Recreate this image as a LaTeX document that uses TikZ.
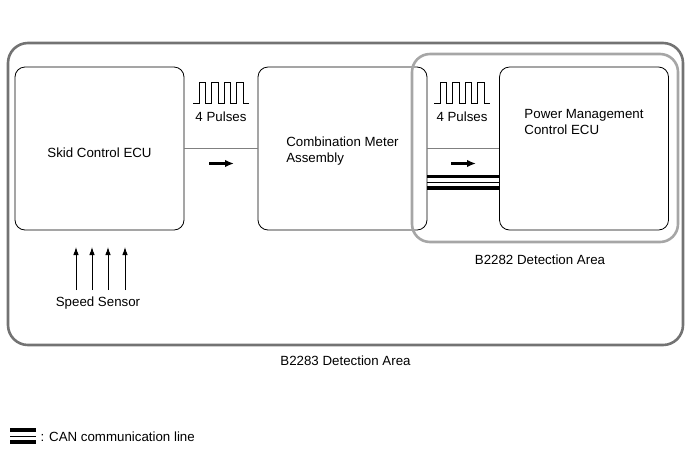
\documentclass[tikz,border=0pt]{standalone}
\usepackage{fontspec}
\setmainfont{Liberation Sans}
\usetikzlibrary{arrows.meta,positioning}
\tikzset{%
	ecu/.style    = {draw, rectangle, rounded corners=10pt, minimum width=169pt, minimum height=163pt, line width=0.8pt}, % ECU box
	area/.style   = {draw, rectangle, line width=2.6pt}, % Detection area
	signal/.style = {draw=gray, line width=0.8pt}, % Pulse line
	pulse/.style  = {line width=0.8pt, line join=miter},
	dir/.style    = {line width=2.2pt, -{Latex[length=9pt,width=7.5pt]}},
	sensor/.style = {line width=0.9pt, -{Latex[length=8pt,width=5.5pt]}},
	can/.style    = {line width=3.8pt}, % CAN line
	canmid/.style = {line width=0.8pt},
}

\begin{document}
\begin{tikzpicture}[x=1pt, y=-1pt, font=\fontsize{13.3}{16}\selectfont]
	\useasboundingbox (0,0) rectangle (690,467);
	% detection areas
	\node[area, draw=black!55, rounded corners=20pt, minimum width=675pt, minimum height=302pt,
		label={[label distance=6pt]below:B2283 Detection Area}] (b2283) at (345.5,194) {};
	% ECUs
	\node[ecu] (skid) at (99.5,148.5) {};
	\node at ([yshift=-4pt]skid.center) {Skid Control ECU};
	\node[ecu] (combo) at (342.5,148.5) {};
	\node[align=left] (combotext) at ([yshift=-3pt]combo.center) {Combination Meter\\Assembly};
	\node[ecu] (power) at (584,148.5) {};
	\node[align=left] (powertext) at ([yshift=27pt]power.center) {Power Management\\Control ECU};
	\node[area, draw=black!35, rounded corners=18pt, minimum width=266pt, minimum height=188pt,
		label={[label distance=8pt, xshift=-5pt]below:B2282 Detection Area}] (b2282) at (545,148) {};
	% pulses
	\foreach \px/\nm in {193/pulsesL, 434/pulsesR} {
		\draw[pulse] (\px,103) -- ++(6,0)
			\foreach \i in {1,...,4} { -- ++(0,-21) -- ++(6.3,0) -- ++(0,21) -- ++(6.3,0) };
		\node (\nm) at (\px+28,117) {4 Pulses};
	}
	\draw[signal] (skid) -- (combo);
	\draw[signal] (combo) -- (power);
	\draw[dir] (209,163.5) -- (234,163.5);
	\draw[dir] (451,163.5) -- (476,163.5);
	% CAN
	\draw[can] ([yshift=-28pt]combo.east) -- ([yshift=-28pt]power.west);
	\draw[canmid] ([yshift=-34pt]combo.east) -- ([yshift=-34pt]power.west);
	\draw[can] ([yshift=-39.5pt]combo.east) -- ([yshift=-39.5pt]power.west);
	% speed sensor
	\node (speed) at (98,303) {Speed Sensor};
	\foreach \sx in {76,92,108,125}
		\draw[sensor] (\sx,290) -- (\sx,247);
	% legend
	\node[anchor=west] (canlegend) at (37,437) {: CAN communication line};
	\draw[can] (10,430) -- (36,430);
	\draw[canmid] (10,436) -- (36,436);
	\draw[can] (10,442) -- (36,442);
\end{tikzpicture}
\end{document}
